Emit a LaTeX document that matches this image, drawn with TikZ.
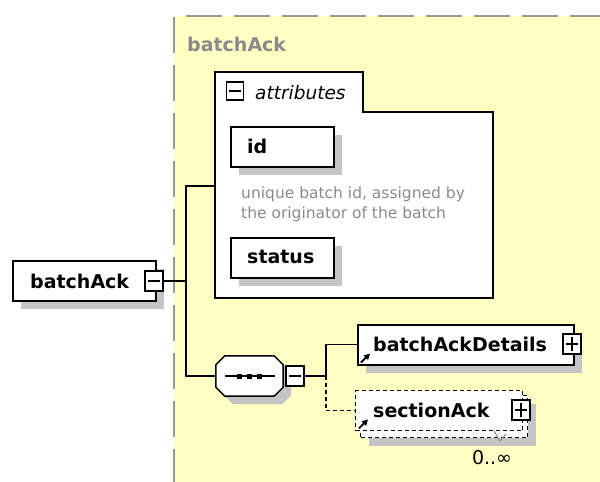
\documentclass[tikz,border=0pt]{standalone}
\usepackage{fontspec}
\setmainfont{DejaVu Sans}
\usetikzlibrary{shadows,calc,arrows.meta}
\definecolor{bgyellow}{HTML}{FFFFC4}
\definecolor{bordergray}{HTML}{999999}
\definecolor{shadowgray}{HTML}{C4C4C4}
\definecolor{textgray}{HTML}{8A8A8A}
\begin{document}
\begin{tikzpicture}[x=1pt,y=-1pt,
  conn/.style={line width=1.4pt},
  optconn/.style={line width=1.4pt, dash pattern=on 4pt off 3pt},
  shad/.style={drop shadow={shadow xshift=8pt, shadow yshift=-8pt, fill=shadowgray, opacity=1}},
  elem/.style={draw=black, fill=white, line width=1.5pt, inner sep=0pt, anchor=north west, shad},
  optelem/.style={draw=black, fill=white, line width=1.4pt, dash pattern=on 4pt off 3pt, inner sep=0pt, anchor=north west},
  sgn/.style={draw=black, fill=white, line width=1.3pt, minimum width=18pt, minimum height=20pt, inner sep=0pt},
  minusbox/.style={sgn, path picture={\draw[line width=1.3pt] ([xshift=-6pt]path picture bounding box.center) -- ([xshift=6pt]path picture bounding box.center);}},
  plusbox/.style={sgn, path picture={\draw[line width=1.3pt] ([xshift=-6pt]path picture bounding box.center) -- ([xshift=6pt]path picture bounding box.center) ([yshift=-7pt]path picture bounding box.center) -- ([yshift=7pt]path picture bounding box.center);}},
  lbl/.style={font=\fontsize{19}{19}\selectfont\bfseries, inner sep=0pt, anchor=base west},
  desc/.style={font=\fontsize{15.5}{15.5}\selectfont, text=textgray, inner sep=0pt, anchor=base west},
  reftip/.style={-{Triangle[length=6pt,width=6pt]}, line width=1.8pt}
]
\useasboundingbox (0,0) rectangle (600,482);
% complex type background
\fill[bgyellow] (174,16) rectangle (600,482);
\draw[bordergray, line width=2pt, dash pattern=on 36pt off 12pt] (174,17) -- (174,482);
\draw[bordergray, line width=2pt, dash pattern=on 36pt off 12pt] (186,16) -- (600,16);
\node[font=\fontsize{19}{19}\selectfont\bfseries, text=textgray, inner sep=0pt, anchor=base west] (typelbl) at (187,51) {batchAck};

% root element
\node[elem, minimum width=143pt, minimum height=40pt] (root) at (12,260) {};
\node[lbl] (rootlbl) at (30,288) {batchAck};
\node[minusbox] (rootm) at (154,281) {};
\coordinate (j1) at (186,281);
\draw[conn] (rootm) -- (j1);

% attributes
\filldraw[fill=white, line width=1.5pt] (215,72) -- (363,72) -- (363,112) -- (493,112) -- (493,298) -- (215,298) -- cycle;
\coordinate (attrin) at (215,186);
\node[minusbox, minimum width=17pt, minimum height=18pt] (attrm) at (235,91) {};
\node[font=\fontsize{18.5}{18.5}\selectfont\itshape, inner sep=0pt, anchor=base west] (attrlbl) at (255,99) {attributes};
\node[elem, minimum width=103pt, minimum height=40pt] (id) at (230,126) {};
\node[lbl] (idlbl) at (247,153) {id};
\node[desc] (d1) at (241,198) {unique batch id, assigned by};
\node[desc] (d2) at (241,218) {the originator of the batch};
\node[elem, minimum width=103pt, minimum height=40pt] (status) at (230,237) {};
\node[lbl] (statuslbl) at (247,263) {status};
\draw[conn] (j1) |- (attrin);

% sequence
\node[minimum width=67pt, minimum height=40pt, inner sep=0pt] (seq) at (249.5,376) {};
\filldraw[fill=white, line width=1.5pt, shad]
  ($(seq.north west)+(9,0)$) -- ($(seq.north east)+(-9,0)$) -- ($(seq.north east)+(0,9)$)
  -- ($(seq.south east)+(0,-9)$) -- ($(seq.south east)+(-9,0)$) -- ($(seq.south west)+(9,0)$)
  -- ($(seq.south west)+(0,-9)$) -- ($(seq.north west)+(0,9)$) -- cycle;
\draw[conn] (j1) |- (seq.west);
\draw[conn] ($(seq.west)+(9,0)$) -- ($(seq.east)+(-8,0)$);
\foreach \dx in {-10,0,10} \fill ($(seq.center)+(\dx,0)+(-2.5,-2.5)$) rectangle +(5,5);
\node[minusbox] (seqm) at (295,376) {};
\coordinate (j2) at (326,376);
\draw[conn] (seqm) -- (j2);

% batchAckDetails
\node[elem, minimum width=216pt, minimum height=40pt] (bad) at (357,324) {};
\node[lbl] (badlbl) at (373,351) {batchAckDetails};
\node[plusbox] (badp) at (572,344) {};
\draw[reftip] ($(bad.south west)+(4,-3)$) -- ($(bad.south west)+(13,-12)$);
\draw[conn] (j2) |- (bad.west);

% sectionAck
\node[optelem, shad, minimum width=167pt, minimum height=42pt] (saback) at (360,395) {};
\node[optelem, minimum width=167pt, minimum height=40pt] (sa) at (355,390) {};
\node[lbl] (salbl) at (373,417) {sectionAck};
\node[plusbox] (sap) at (521,410) {};
\draw[reftip] ($(sa.south west)+(4,-3)$) -- ($(sa.south west)+(13,-12)$);
\draw[optconn] (j2) |- (sa.west);
\draw[textgray, line width=1pt] (494,431) -- (500,441) -- (506,434);
\node[font=\fontsize{19}{19}\selectfont, inner sep=0pt, anchor=base] (card) at (492,464) {0..∞};
\end{tikzpicture}
\end{document}
